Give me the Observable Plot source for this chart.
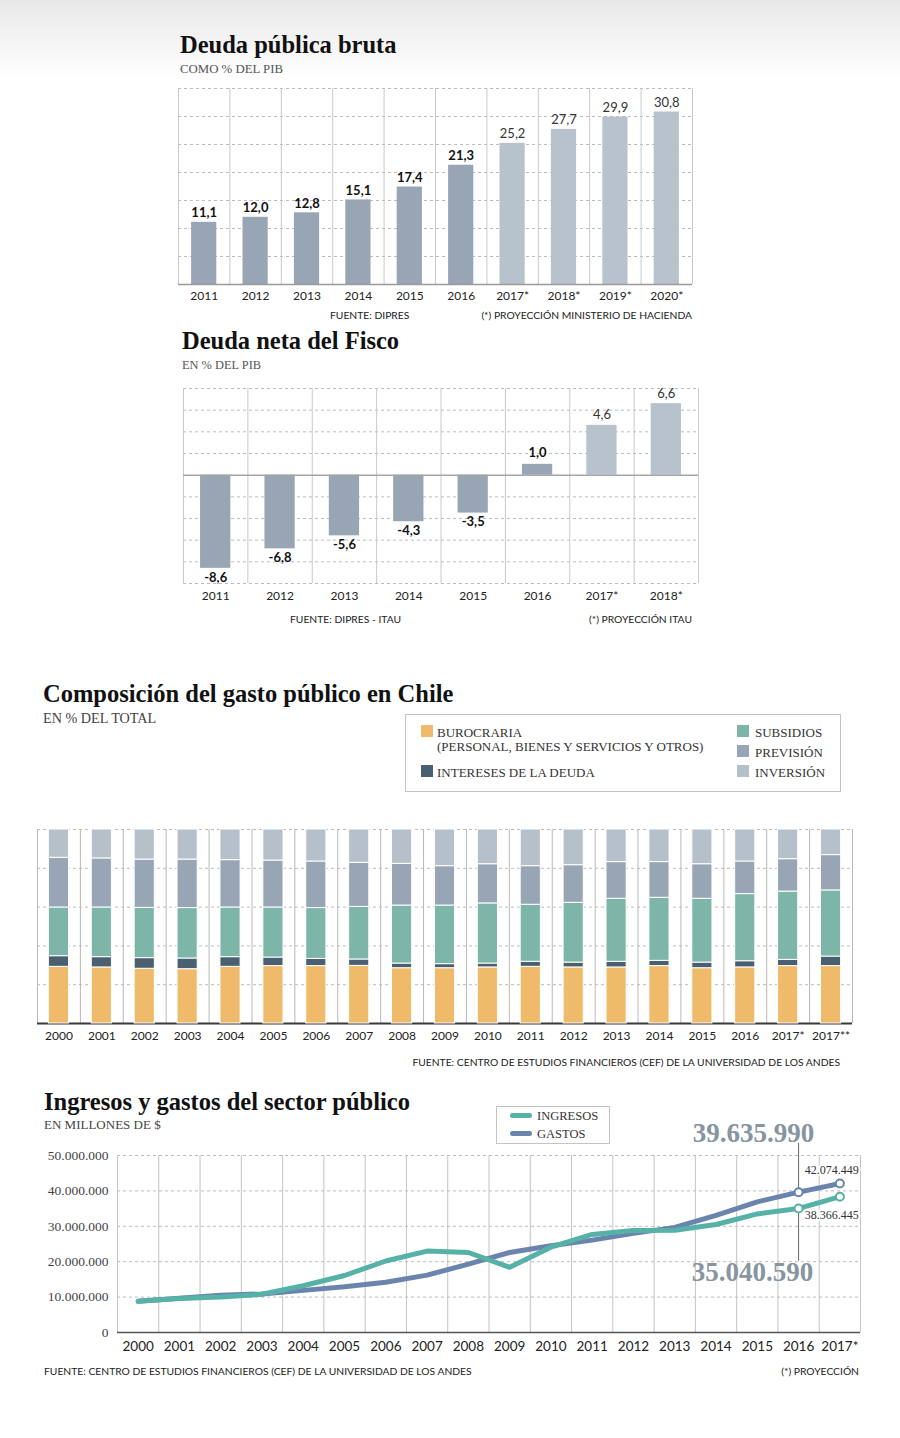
<!DOCTYPE html>
<html><head><meta charset="utf-8">
<script src="https://cdn.jsdelivr.net/npm/d3@7"></script>
<script src="https://cdn.jsdelivr.net/npm/@observablehq/plot@0.6"></script>
<style>
body{margin:0;width:900px;height:1438px;position:relative;background:#fff;overflow:hidden;}
.abs{position:absolute;white-space:nowrap;}
#hdr{position:absolute;left:0;top:0;width:900px;height:80px;background:linear-gradient(#e8e8e8,#ffffff);}
</style></head><body>
<div id="hdr"></div>
<script>
// ---------- DATA ----------
// Deuda pública bruta (% PIB)
const brutaYears = ["2011","2012","2013","2014","2015","2016","2017*","2018*","2019*","2020*"];
const brutaValues = [11.1, 12.0, 12.8, 15.1, 17.4, 21.3, 25.2, 27.7, 29.9, 30.8];
const brutaProjected = [false,false,false,false,false,false,true,true,true,true];

// Deuda neta del Fisco (% PIB)
const netaYears = ["2011","2012","2013","2014","2015","2016","2017*","2018*"];
const netaValues = [-8.6, -6.8, -5.6, -4.3, -3.5, 1.0, 4.6, 6.6];
const netaProjected = [false,false,false,false,false,false,true,true];

// Composición del gasto público (% del total)
const gastoYears = ["2000","2001","2002","2003","2004","2005","2006","2007","2008","2009","2010","2011","2012","2013","2014","2015","2016","2017*","2017**"];
const burocracia = [29.2,28.9,28.2,28.0,29.2,29.6,29.6,29.7,28.5,28.5,28.9,29.2,28.9,28.9,29.6,28.5,28.9,29.6,29.6];
const intereses  = [5.5,5.3,5.5,5.5,5.0,4.4,3.7,3.3,2.4,2.1,2.0,2.6,2.5,2.9,2.7,2.9,3.2,3.2,4.9];
const subsidios  = [25.1,25.6,25.9,26.0,25.6,25.8,26.2,27.1,29.9,30.2,31.0,29.4,30.8,32.5,32.5,32.9,34.6,35.2,34.1];
const prevision  = [25.6,25.3,24.9,25.0,24.4,24.2,24.0,22.7,21.5,20.3,20.2,19.9,19.4,18.9,18.4,17.8,16.8,16.7,18.2];
const inversion  = [14.6,14.9,15.5,15.5,15.8,16.0,16.5,17.2,17.7,18.9,17.9,18.9,18.4,16.8,16.8,17.9,16.5,15.3,13.2];
const componentNames = ["BUROCRARIA","INTERESES DE LA DEUDA","SUBSIDIOS","PREVISIÓN","INVERSIÓN"];
const componentColors = ["#efbb6a","#4a6071","#7db5a9","#97a5b4","#b6c0cb"];

// Ingresos y gastos del sector público (millones de $)
const lineYears = ["2000","2001","2002","2003","2004","2005","2006","2007","2008","2009","2010","2011","2012","2013","2014","2015","2016","2017*"];
const ingresos = [8800000,9600000,10000000,10800000,13200000,16100000,20200000,23000000,22600000,18400000,24100000,27700000,28800000,28900000,30500000,33500000,35040590,38366445];
const gastos   = [8800000,9700000,10500000,10900000,11900000,12900000,14200000,16200000,19300000,22600000,24500000,26100000,28000000,29700000,33100000,36900000,39635990,42074449];
const lineTicks = [0,10000000,20000000,30000000,40000000,50000000];

// ---------- HELPERS ----------
const W = 900;
const SANS = "Lato, 'Open Sans', sans-serif";
const SERIF = "'Liberation Serif', 'DejaVu Serif', serif";
const fmt1 = v => v.toFixed(1).replace(".", ",");
const fmtMil = v => v === 0 ? "0" : String(Math.round(v)).replace(/\B(?=(\d{3})+(?!\d))/g, ".");

function label(text, x, baseline, o = {}) {
  const d = document.createElement("div");
  d.className = "abs";
  d.textContent = text;
  const size = o.size || 12;
  const serif = o.serif !== false;
  const ratio = serif ? 0.8375 : 0.887;
  d.style.fontFamily = serif ? SERIF : SANS;
  d.style.fontSize = size + "px";
  d.style.lineHeight = size + "px";
  d.style.fontWeight = o.weight || "normal";
  d.style.color = o.color || "#222";
  if (o.spacing) d.style.letterSpacing = o.spacing;
  d.style.top = (baseline - ratio * size) + "px";
  if (o.anchor === "end") d.style.right = (W - x) + "px";
  else d.style.left = x + "px";
  document.body.appendChild(d);
  return d;
}
function place(svg, top) {
  svg.style.position = "absolute";
  svg.style.left = "0px";
  svg.style.top = top + "px";
  document.body.appendChild(svg);
}
const baseStyle = {fontFamily: SANS, fontSize: "12px", background: "transparent", overflow: "visible", color: "#222"};
const TITLE = {size: 24.5, weight: "bold", color: "#111"};
const FOOT = {size: 10.3, serif: false, color: "#222"};

// ---------- PANEL 1: Deuda pública bruta ----------
label("Deuda pública bruta", 180, 54, TITLE);
label("COMO % DEL PIB", 180, 74, {size: 12.8, color: "#555"});
{
  const ml = 178, mr = 208;
  const step = (W - ml - mr) / brutaYears.length;
  const data = brutaYears.map((year, i) => ({year, value: brutaValues[i], projected: brutaProjected[i]}));
  const svg = Plot.plot({
    width: W, height: 226, marginLeft: ml, marginRight: mr, marginTop: 8, marginBottom: 22,
    style: baseStyle,
    x: {type: "band", domain: brutaYears, paddingInner: 0.51, paddingOuter: 0.255, round: false, axis: null},
    y: {domain: [0, 35], axis: null},
    marks: [
      Plot.ruleY(d3.range(5, 36, 5), {stroke: "#bcbcbc", strokeDasharray: "3,3"}),
      Plot.ruleX(brutaYears, {x: d => d, dx: -step / 2, stroke: "#c9c9c9"}),
      Plot.ruleX([brutaYears[brutaYears.length - 1]], {x: d => d, dx: step / 2, stroke: "#c9c9c9"}),
      Plot.barY(data, {x: "year", y: "value", fill: d => d.projected ? "#b8c2cc" : "#98a5b4"}),
      Plot.ruleY([0], {stroke: "#9a9a9a", strokeWidth: 1.5}),
      Plot.text(data.filter(d => !d.projected), {x: "year", y: "value", text: d => fmt1(d.value), lineAnchor: "bottom", dy: -5, fontSize: 13, fontWeight: "bold", fill: "#111"}),
      Plot.text(data.filter(d => d.projected), {x: "year", y: "value", text: d => fmt1(d.value), lineAnchor: "bottom", dy: -5, fontSize: 13, fill: "#333"}),
      Plot.text(brutaYears, {x: d => d, text: d => d, frameAnchor: "bottom", lineAnchor: "top", dy: 7, fontSize: 12, fill: "#222"})
    ]
  });
  place(svg, 80);
}
label("FUENTE: DIPRES", 330, 319, FOOT);
label("(*) PROYECCIÓN MINISTERIO DE HACIENDA", 692, 319, {...FOOT, anchor: "end"});

// ---------- PANEL 2: Deuda neta del Fisco ----------
label("Deuda neta del Fisco", 182, 350, TITLE);
label("EN % DEL PIB", 182, 369, {size: 12.4, color: "#555"});
{
  const ml = 183, mr = 202;
  const step = (W - ml - mr) / netaYears.length;
  const data = netaYears.map((year, i) => ({year, value: netaValues[i], projected: netaProjected[i]}));
  const svg = Plot.plot({
    width: W, height: 230, marginLeft: ml, marginRight: mr, marginTop: 8, marginBottom: 27,
    style: baseStyle,
    x: {type: "band", domain: netaYears, paddingInner: 0.53, paddingOuter: 0.265, round: false, axis: null},
    y: {domain: [-10, 8], axis: null},
    marks: [
      Plot.ruleY(d3.range(-10, 9, 2).filter(v => v !== 0), {stroke: "#bcbcbc", strokeDasharray: "3,3"}),
      Plot.ruleX(netaYears, {x: d => d, dx: -step / 2, stroke: "#c9c9c9"}),
      Plot.ruleX([netaYears[netaYears.length - 1]], {x: d => d, dx: step / 2, stroke: "#c9c9c9"}),
      Plot.barY(data, {x: "year", y: "value", fill: d => d.projected ? "#b8c2cc" : "#98a5b4"}),
      Plot.ruleY([0], {stroke: "#a5a5a5", strokeWidth: 1.5}),
      Plot.text(data.filter(d => !d.projected && d.value < 0), {x: "year", y: "value", text: d => fmt1(d.value), lineAnchor: "top", dy: 4, fontSize: 13, fontWeight: "bold", fill: "#111"}),
      Plot.text(data.filter(d => !d.projected && d.value >= 0), {x: "year", y: "value", text: d => fmt1(d.value), lineAnchor: "bottom", dy: -7, fontSize: 13, fontWeight: "bold", fill: "#111"}),
      Plot.text(data.filter(d => d.projected), {x: "year", y: "value", text: d => fmt1(d.value), lineAnchor: "bottom", dy: -6, fontSize: 13, fill: "#333"}),
      Plot.text(netaYears, {x: d => d, text: d => d, frameAnchor: "bottom", lineAnchor: "top", dy: 8, fontSize: 12, fill: "#222"})
    ]
  });
  place(svg, 380);
}
label("FUENTE: DIPRES - ITAU", 290, 623, FOOT);
label("(*) PROYECCIÓN ITAU", 692, 623, {...FOOT, anchor: "end"});

// ---------- PANEL 3: Composición del gasto público ----------
label("Composición del gasto público en Chile", 43, 703, TITLE);
label("EN % DEL TOTAL", 43, 723, {size: 14.2, color: "#444"});
{
  const box = document.createElement("div");
  box.className = "abs";
  Object.assign(box.style, {left: "405px", top: "714px", width: "434px", height: "76px", border: "1px solid #c4c4c4", background: "#fff"});
  document.body.appendChild(box);
  const sw = (x, y, c) => {
    const s = document.createElement("div");
    s.className = "abs";
    Object.assign(s.style, {left: x + "px", top: y + "px", width: "12px", height: "12px", background: c});
    document.body.appendChild(s);
  };
  const lo = {size: 13, color: "#333"};
  sw(421, 725, componentColors[0]); label(componentNames[0], 437, 737, lo);
  label("(PERSONAL, BIENES Y SERVICIOS Y OTROS)", 437, 751, lo);
  sw(421, 765, componentColors[1]); label(componentNames[1], 437, 777, lo);
  sw(737, 725, componentColors[2]); label(componentNames[2], 755, 737, lo);
  sw(737, 745, componentColors[3]); label(componentNames[3], 755, 757, lo);
  sw(737, 765, componentColors[4]); label(componentNames[4], 755, 777, lo);
}
{
  const ml = 37, mr = 48;
  const step = (W - ml - mr) / gastoYears.length;
  const series = [burocracia, intereses, subsidios, prevision, inversion];
  const long = [];
  series.forEach((vals, k) => gastoYears.forEach((year, i) => long.push({year, comp: componentNames[k], value: vals[i]})));
  const svg = Plot.plot({
    width: W, height: 240, marginLeft: ml, marginRight: mr, marginTop: 9, marginBottom: 37,
    style: baseStyle,
    x: {type: "band", domain: gastoYears, paddingInner: 0.53, paddingOuter: 0.265, round: false, axis: null},
    y: {domain: [0, 100], axis: null},
    color: {domain: componentNames, range: componentColors},
    marks: [
      Plot.ruleY([20, 40, 60, 80, 100], {stroke: "#bcbcbc", strokeDasharray: "3,3"}),
      Plot.ruleX(gastoYears, {x: d => d, dx: -step / 2, stroke: "#b8b8b8"}),
      Plot.ruleX([gastoYears[gastoYears.length - 1]], {x: d => d, dx: step / 2, stroke: "#b8b8b8"}),
      Plot.ruleY([0], {stroke: "#3a3a3a", strokeWidth: 2}),
      Plot.barY(long, {x: "year", y: "value", fill: "comp", stroke: "#ffffff", strokeWidth: 1}),
      Plot.text(gastoYears, {x: d => d, text: d => d, frameAnchor: "bottom", lineAnchor: "top", dy: 8, fontSize: 12, fill: "#222"})
    ]
  });
  place(svg, 820);
}
label("FUENTE: CENTRO DE ESTUDIOS FINANCIEROS (CEF) DE LA UNIVERSIDAD DE LOS ANDES", 840, 1066, {...FOOT, anchor: "end"});

// ---------- PANEL 4: Ingresos y gastos ----------
label("Ingresos y gastos del sector público", 44, 1111, TITLE);
label("EN MILLONES DE $", 44, 1129, {size: 13, color: "#444"});
{
  const box = document.createElement("div");
  box.className = "abs";
  Object.assign(box.style, {left: "496px", top: "1106px", width: "112px", height: "36px", border: "1px solid #c4c4c4", background: "#fff"});
  document.body.appendChild(box);
  const ln = (y, c) => {
    const s = document.createElement("div");
    s.className = "abs";
    Object.assign(s.style, {left: "510px", top: y + "px", width: "22px", height: "5px", borderRadius: "3px", background: c});
    document.body.appendChild(s);
  };
  ln(1113, "#56b1a6"); label("INGRESOS", 537, 1120, {size: 12.5, color: "#333"});
  ln(1131, "#6a84ad"); label("GASTOS", 537, 1138, {size: 12.5, color: "#333"});
}
{
  const ml = 117, mr = 40;
  const step = (W - ml - mr) / lineYears.length;
  const ing = lineYears.map((year, i) => ({year, value: ingresos[i]}));
  const gas = lineYears.map((year, i) => ({year, value: gastos[i]}));
  const n = lineYears.length;
  const cI = "#56b1a6", cG = "#6a84ad";
  const svg = Plot.plot({
    width: W, height: 220, marginLeft: ml, marginRight: mr, marginTop: 15, marginBottom: 28,
    style: baseStyle,
    x: {type: "point", domain: lineYears, padding: 0.5, round: false, axis: null},
    y: {domain: [0, 50000000], axis: null},
    marks: [
      Plot.ruleY(lineTicks.filter(v => v > 0), {stroke: "#bcbcbc", strokeDasharray: "3,3"}),
      Plot.ruleX(lineYears, {x: d => d, dx: -step / 2, stroke: "#c4c4c4"}),
      Plot.ruleX([lineYears[n - 1]], {x: d => d, dx: step / 2, stroke: "#c4c4c4"}),
      Plot.ruleY([0], {stroke: "#555", strokeWidth: 1.5}),
      Plot.text(lineTicks, {y: d => d, text: d => fmtMil(d), frameAnchor: "left", textAnchor: "end", dx: -9, fontFamily: SERIF, fontSize: 13.5, fill: "#444"}),
      Plot.text(lineYears, {x: d => d, text: d => d, frameAnchor: "bottom", lineAnchor: "top", dy: 9, fontSize: 13.5, fill: "#222"}),
      // connectors
      Plot.ruleX([{year: lineYears[n - 2], a: gastos[n - 2], b: 53400000}], {x: "year", y1: "a", y2: "b", stroke: "#666", strokeWidth: 1}),
      Plot.ruleX([{year: lineYears[n - 2], a: ingresos[n - 2], b: 20100000}], {x: "year", y1: "a", y2: "b", stroke: "#666", strokeWidth: 1}),
      // lines
      Plot.line(gas.slice(0, n - 1), {x: "year", y: "value", stroke: cG, strokeWidth: 5, strokeLinecap: "round", strokeLinejoin: "round"}),
      Plot.line(gas.slice(n - 2), {x: "year", y: "value", stroke: cG, strokeWidth: 5, strokeDasharray: "2.5,2"}),
      Plot.line(ing.slice(0, n - 1), {x: "year", y: "value", stroke: cI, strokeWidth: 5, strokeLinecap: "round", strokeLinejoin: "round"}),
      Plot.line(ing.slice(n - 2), {x: "year", y: "value", stroke: cI, strokeWidth: 5, strokeDasharray: "2.5,2"}),
      Plot.dot(gas.slice(n - 2), {x: "year", y: "value", r: 4, fill: "#fff", stroke: cG, strokeWidth: 2}),
      Plot.dot(ing.slice(n - 2), {x: "year", y: "value", r: 4, fill: "#fff", stroke: cI, strokeWidth: 2}),
      // value annotations
      Plot.text([gas[n - 2]], {x: "year", y: () => 53400000, text: d => fmtMil(d.value), lineAnchor: "bottom", dy: -1, dx: -45, fontFamily: SERIF, fontWeight: "bold", fontSize: 27, fill: "#8795a1"}),
      Plot.text([ing[n - 2]], {x: "year", y: () => 20100000, text: d => fmtMil(d.value), lineAnchor: "top", dy: 0, dx: -46, fontFamily: SERIF, fontWeight: "bold", fontSize: 27, fill: "#8795a1"}),
      Plot.text([gas[n - 1]], {x: "year", y: "value", text: d => fmtMil(d.value), textAnchor: "end", lineAnchor: "bottom", dx: 19, dy: -10, fontFamily: SERIF, fontSize: 12, fill: "#333", stroke: "#fff", strokeWidth: 4, paintOrder: "stroke"}),
      Plot.text([ing[n - 1]], {x: "year", y: "value", text: d => fmtMil(d.value), textAnchor: "end", lineAnchor: "top", dx: 19, dy: 14, fontFamily: SERIF, fontSize: 12, fill: "#333", stroke: "#fff", strokeWidth: 4, paintOrder: "stroke"})
    ]
  });
  place(svg, 1140);
}
label("FUENTE: CENTRO DE ESTUDIOS FINANCIEROS (CEF) DE LA UNIVERSIDAD DE LOS ANDES", 44, 1375, FOOT);
label("(*) PROYECCIÓN", 859, 1375, {...FOOT, anchor: "end"});
</script>
</body></html>
